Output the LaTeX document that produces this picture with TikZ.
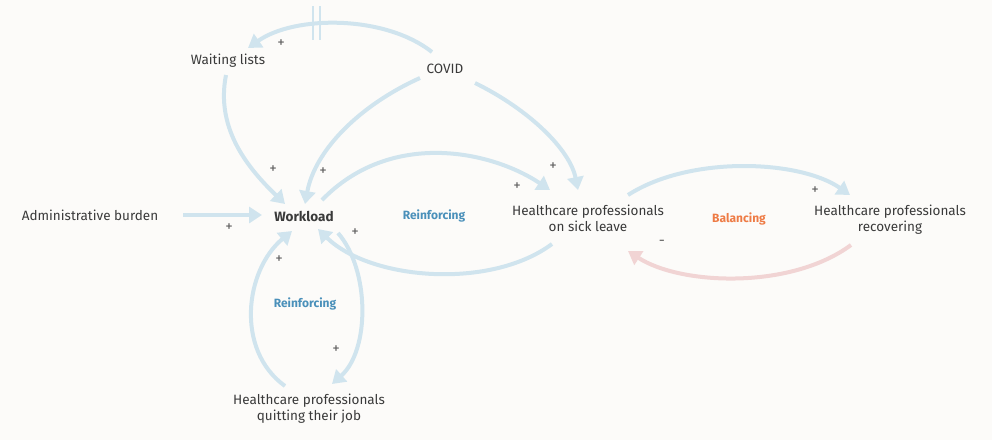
\documentclass[tikz,border=0pt]{standalone}
\usepackage{fontspec}
\setmainfont{Fira Sans}
\usetikzlibrary{arrows.meta}
\definecolor{bg}{HTML}{FCFBF9}
\definecolor{lb}{HTML}{D0E4EE}
\definecolor{pk}{HTML}{F1D4D4}
\definecolor{tx}{HTML}{3A3A3A}
\definecolor{rb}{HTML}{4A90BA}
\definecolor{bo}{HTML}{EE7B45}
\begin{document}
\begin{tikzpicture}[x=1pt,y=-1pt,
  lbl/.style={font=\fontsize{13.5}{16}\selectfont,text=tx,align=center,inner sep=1pt},
  loop/.style={font=\fontsize{12}{14}\selectfont\bfseries,inner sep=1pt},
  sg/.style={font=\fontsize{15}{16}\selectfont,text=tx!80,inner sep=0pt},
  ar/.style={draw=lb,line width=4pt,-{Triangle[length=13pt,width=16pt]}},
  arp/.style={draw=pk,line width=4pt,-{Triangle[length=13pt,width=16pt]}}]
\fill[bg] (0,0) rectangle (992,440);
\useasboundingbox (0,0) rectangle (992,440);
\node[lbl] (wl) at (228,61) {Waiting lists};
\node[lbl] (cv) at (445,69) {COVID};
\node[lbl] (ad) at (90,215) {Administrative burden};
\node[lbl,font=\fontsize{13.5}{16}\selectfont\bfseries] (wk) at (304,216) {Workload};
\node[loop,text=rb] (r1) at (434,216) {Reinforcing};
\node[lbl] (sl) at (588,218) {Healthcare professionals\\on sick leave};
\node[loop,text=bo] (b1) at (739,219) {Balancing};
\node[lbl] (rc) at (890,220) {Healthcare professionals\\recovering};
\node[lbl] (qt) at (309,409) {Healthcare professionals\\quitting their job};
\node[loop,text=rb] (r2) at (305,304) {Reinforcing};
% connectors
\draw[ar] (432,52) .. controls (385,15) and (295,15) .. (248,48);
\draw[lb,line width=1.5pt] (313,6) -- (313,40) (320,6) -- (320,40);
\draw[ar] (226,75) .. controls (215,130) and (250,170) .. (285,204);
\draw[ar] (420,78) .. controls (360,105) and (315,150) .. (305,204);
\draw[ar] (475,83) .. controls (530,110) and (570,150) .. (578,190);
\draw[ar] (322,200) .. controls (390,130) and (490,150) .. (550,190);
\draw[ar] (552,244) .. controls (490,290) and (370,280) .. (318,229);
\draw[ar] (183,215) -- (262,215);
\draw[ar] (338,233) .. controls (370,270) and (370,350) .. (332,384);
\draw[ar] (285,386) .. controls (235,350) and (245,270) .. (292,231);
\draw[ar] (628,195) .. controls (690,155) and (800,160) .. (850,195);
\draw[arp] (851,245) .. controls (790,290) and (680,285) .. (628,251);
% signs
\foreach \p in {(281,44),(273,170),(323,172),(517,187),(553,167),(229,228),(355,233),(279,260),(336,350),(815,191)}
  \node[sg] at \p {+};
\node[sg] at (662,243) {-};
\end{tikzpicture}
\end{document}
